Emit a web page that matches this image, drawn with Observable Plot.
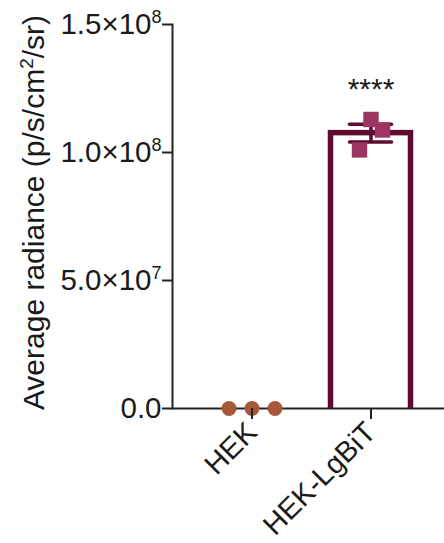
<!DOCTYPE html>
<html>
<head>
<meta charset="utf-8">
<script src="https://cdn.jsdelivr.net/npm/d3@7"></script>
<script src="https://cdn.jsdelivr.net/npm/@observablehq/plot@0.6"></script>
<style>
  html, body { margin: 0; padding: 0; background: white; }
</style>
</head>
<body>
<div id="chart"></div>
<script>
// ---- data ----
const groups = ["HEK", "HEK-LgBiT"];
const hekValues = [0, 0, 0];
const lgbitValues = [1.010e8, 1.129e8, 1.088e8];
const yTicks = [0, 5e7, 1e8, 1.5e8];
const significance = "****";
const yLabel = "Average radiance (p/s/cm^2^/sr)";

// ---- styles ----
const barColor = "#5e0b31";
const groupColor = {"HEK": "#a8583a", "HEK-LgBiT": "#9b3660"};
const groupSymbol = {"HEK": "circle", "HEK-LgBiT": "square"};
const groupR = {"HEK": 7.5, "HEK-LgBiT": 8.7};
const groupSpread = {"HEK": 23, "HEK-LgBiT": 11.5};
const axisColor = "#222";
const font = "'Liberation Sans', Arial, Helvetica, sans-serif";

// ---- derived tables ----
const valuesByGroup = {"HEK": hekValues, "HEK-LgBiT": lgbitValues};
const replicates = groups.flatMap(g => valuesByGroup[g].map((v, i) => ({group: g, rep: i, value: v})));
const summary = groups.map(g => {
  const vals = valuesByGroup[g];
  const mean = d3.mean(vals);
  const sd = d3.deviation(vals) || 0;
  const sem = sd / Math.sqrt(vals.length);
  return {group: g, mean, sem, lo: mean - sem, hi: mean + sem};
});
const caps = summary.flatMap(d => [{group: d.group, v: d.lo}, {group: d.group, v: d.hi}]);
const starRow = summary.filter(d => d.group === "HEK-LgBiT").map(d => ({group: d.group, y: d.mean, label: significance}));

function fmt(d) {
  if (d === 0) return "0.0";
  const e = Math.floor(Math.log10(d));
  const m = (d / Math.pow(10, e)).toFixed(1);
  return m + "×10^" + e;
}

const pointMarks = [];
for (const g of groups) {
  for (let i = 0; i < valuesByGroup[g].length; i++) {
    pointMarks.push(Plot.dot(replicates.filter(d => d.group === g && d.rep === i), {
      x: "group", y: "value", symbol: () => groupSymbol[g], r: groupR[g],
      fill: groupColor[g], stroke: "none", dx: (i - 1) * groupSpread[g]
    }));
  }
}

const chart = Plot.plot({
  width: 444,
  height: 543,
  marginLeft: 172,
  marginRight: 0,
  marginTop: 24,
  marginBottom: 135,
  style: {fontFamily: font, background: "white", color: "#1a1a1a", overflow: "visible"},
  x: {domain: groups, range: [191.5, 429.5], padding: 0, axis: null},
  y: {domain: [0, 1.5e8], axis: null},
  symbol: {type: "identity"},
  marks: [
    Plot.barY(summary.filter(d => d.mean > 0), {
      x: "group", y: "mean", fill: "white", stroke: barColor, strokeWidth: 5.5,
      insetLeft: 19.5, insetRight: 19.5, insetBottom: -4, clip: "frame"
    }),
    Plot.ruleX(summary.filter(d => d.mean > 0), {x: "group", y1: "lo", y2: "hi", stroke: barColor, strokeWidth: 3.5}),
    Plot.tickY(caps.filter(d => d.v > 0), {x: "group", y: "v", stroke: barColor, strokeWidth: 3.5,
      insetLeft: 38.5, insetRight: 38.5, strokeLinecap: "round"}),
    Plot.ruleY([0], {stroke: axisColor, strokeWidth: 2}),
    Plot.frame({anchor: "left", stroke: axisColor, strokeWidth: 2}),
    ...pointMarks,
    Plot.text(starRow, {x: "group", y: "y", text: "label", fontSize: 30, lineAnchor: "bottom", dy: -34, fill: "#1a1a1a"}),
    Plot.axisX({tickRotate: -45, tickSize: 11, tickPadding: 8, fontSize: 29, stroke: axisColor, strokeWidth: 2, label: null}),
    Plot.axisY({ticks: yTicks, tickFormat: fmt, tickSize: 10, tickPadding: 1, fontSize: 29.5, stroke: axisColor, strokeWidth: 2, label: null}),
    Plot.text([yLabel], {frameAnchor: "left", rotate: -90, dx: -129, dy: -4, lineAnchor: "bottom", textAnchor: "middle", fontSize: 30, fill: "#1a1a1a"})
  ]
});

const SVGNS = "http://www.w3.org/2000/svg";
// superscripts: y tick exponents (base^exp) and the label's cm^2^
chart.querySelectorAll("text").forEach(t => {
  const s = t.textContent;
  if (!s.includes("^")) return;
  const parts = s.split("^");
  const isLabel = parts.length === 3;
  t.textContent = parts[0];
  const ts = document.createElementNS(SVGNS, "tspan");
  ts.setAttribute("dy", "-11");
  ts.setAttribute("font-size", isLabel ? "19" : "18");
  ts.textContent = parts[1];
  t.appendChild(ts);
  if (isLabel) {
    const ts2 = document.createElementNS(SVGNS, "tspan");
    ts2.setAttribute("dy", "11");
    ts2.textContent = parts[2];
    t.appendChild(ts2);
  }
});

document.getElementById("chart").appendChild(chart);
</script>
</body>
</html>
